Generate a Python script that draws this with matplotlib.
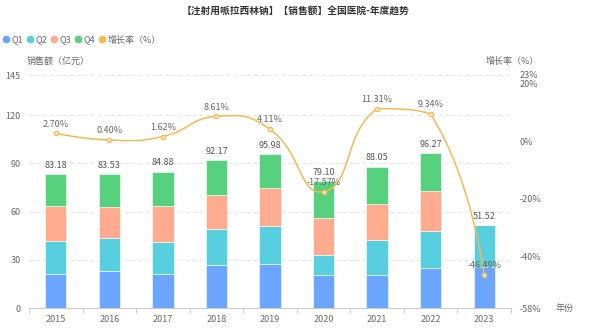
import numpy as np
import matplotlib
matplotlib.use("Agg")
import matplotlib.pyplot as plt
from matplotlib.path import Path
from matplotlib.patches import PathPatch
from matplotlib.lines import Line2D

plt.rcParams['font.family'] = ['Noto Sans CJK SC', 'DejaVu Sans']

years = ['2015', '2016', '2017', '2018', '2019', '2020', '2021', '2022', '2023']
q1 = [21.2, 22.8, 21.0, 26.8, 27.2, 20.3, 20.7, 25.1, 25.3]
q2 = [20.5, 20.6, 20.3, 22.5, 24.0, 12.9, 21.4, 23.0, 26.22]
q3 = [21.8, 19.4, 22.2, 21.0, 23.3, 22.6, 22.6, 24.5, 0]
q4 = [19.68, 20.73, 21.38, 21.87, 21.48, 23.3, 23.35, 23.67, 0]
totals = [83.18, 83.53, 84.88, 92.17, 95.98, 79.10, 88.05, 96.27, 51.52]
growth = [2.70, 0.40, 1.62, 8.61, 4.11, -17.57, 11.31, 9.34, -46.49]

colors = ['#6aa5ff', '#58cfde', '#ffab8f', '#58d17f']
line_color = '#f3b955'
W, H = 589, 333

fig = plt.figure(figsize=(W / 100, H / 100), dpi=100)
ax = fig.add_axes([29 / W, 1 - 308 / H, (511 - 29) / W, (308 - 75) / H])
ax2 = ax.twinx()

x = np.arange(len(years))
bottom = np.zeros(len(years))
for vals, c in zip([q1, q2, q3, q4], colors):
    ax.bar(x, vals, 0.4, bottom=bottom, color=c, edgecolor='white', linewidth=0.4, zorder=2)
    bottom += np.array(vals)

for xi, t in zip(x, totals):
    ax.annotate(f'{t:.2f}', (xi, t), xytext=(0, 3), textcoords='offset points',
                ha='center', va='bottom', fontsize=6.5, color='#555555', zorder=5)

ax.set_xlim(-0.5, len(years) - 0.5)
ax.set_ylim(0, 145)
ax.set_yticks([0, 30, 60, 90, 120, 145])
ax.set_xticks(x)
ax.set_xticklabels(years)
ax.set_xticks(np.arange(-0.5, len(years)), minor=True)
ax.tick_params(axis='x', which='major', length=0, labelsize=6.5, labelcolor='#666666', pad=5)
ax.tick_params(axis='x', which='minor', length=3.5, color='#cccccc', width=0.8)
ax.tick_params(axis='y', length=0, labelsize=6.5, labelcolor='#666666', pad=6)
for yv in [30, 60, 90, 120, 145]:
    ax.axhline(yv, color='#e4e4e4', linewidth=0.7, linestyle=(0, (4, 3)), zorder=0)
for s in ['top', 'right', 'left']:
    ax.spines[s].set_visible(False)
ax.spines['bottom'].set_color('#cccccc')
ax.spines['bottom'].set_linewidth(0.8)

ax2.set_ylim(-58, 23)
ax2.set_yticks([-58, -40, -20, 0, 20, 23])
ax2.set_yticklabels(['-58%', '-40%', '-20%', '0%', '20%', '23%'])
ax2.tick_params(axis='y', length=0, labelsize=6.5, labelcolor='#666666', pad=6)
for s in ['top', 'right', 'left', 'bottom']:
    ax2.spines[s].set_visible(False)

# smooth line like echarts (smooth = 0.5, control points kept inside the points' box)
pts = ax2.transData.transform(np.column_stack([x, growth]))
lo, hi = pts.min(axis=0), pts.max(axis=0)
sm = 0.5
verts = [pts[0]]
codes = [Path.MOVETO]
cp0 = pts[0]
n = len(pts)
for i in range(1, n):
    p = pts[i]
    prev = pts[i - 1]
    if i + 1 < n:
        nxt = pts[i + 1]
        v = (nxt - prev) * sm
        l0 = np.hypot(*(p - prev))
        l1 = np.hypot(*(nxt - p))
        ncp = np.clip(p - v * l0 / (l0 + l1), lo, hi)
        cp_next = np.clip(p + v * l1 / (l0 + l1), lo, hi)
    else:
        ncp = p
        cp_next = p
    verts += [cp0, ncp, p]
    codes += [Path.CURVE4] * 3
    cp0 = cp_next
verts = ax2.transData.inverted().transform(np.array(verts))
ax2.add_patch(PathPatch(Path(verts, codes), facecolor='none', edgecolor=line_color,
                        linewidth=1.1, zorder=3))
ax2.plot(x, growth, linestyle='none', marker='o', markersize=3.2, markerfacecolor='#fbe3b4',
         markeredgecolor=line_color, markeredgewidth=0.8, zorder=4)
for xi, g in zip(x, growth):
    ax2.annotate(f'{g:.2f}%', (xi, g), xytext=(0, 3.5), textcoords='offset points',
                 ha='center', va='bottom', fontsize=6.5, color='#666666', zorder=5)

fig.text(296 / W, 1 - 12 / H, '【注射用哌拉西林钠】【销售额】全国医院-年度趋势', ha='center', va='center',
         fontsize=7, fontweight='bold', color='#333333')
fig.text(27 / W, 1 - 61 / H, '销售额（亿元）', ha='left', va='center', fontsize=6.5, color='#666666')
fig.text(486 / W, 1 - 61 / H, '增长率（%）', ha='left', va='center', fontsize=6.5, color='#666666')
fig.text(556 / W, 1 - 308 / H, '年份', ha='left', va='center', fontsize=6.5, color='#666666')

labels = ['Q1', 'Q2', 'Q3', 'Q4', '增长率（%）']
handles = [Line2D([], [], linestyle='none', marker='o', markersize=4.5, color=c)
           for c in colors + [line_color]]
fig.legend(handles, labels, loc='center left', bbox_to_anchor=(0, 1 - 40 / H), ncol=5,
           frameon=False, fontsize=6.5, handlelength=0.6, handletextpad=0.3,
           columnspacing=0.45, borderaxespad=0, labelcolor='#666666')

fig.savefig('out.png', dpi=100)
